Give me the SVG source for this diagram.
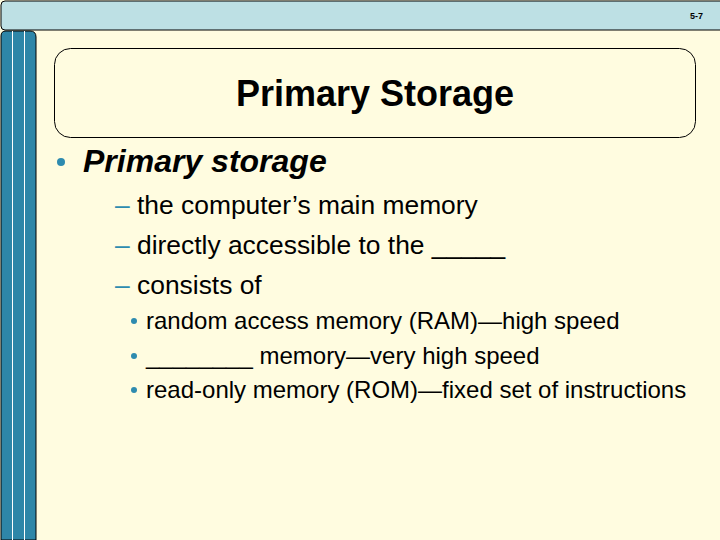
<svg xmlns="http://www.w3.org/2000/svg" width="720" height="540" viewBox="0 0 720 540">
<style>
.t{font-family:"Liberation Sans",Arial,sans-serif;fill:#000}
.b{fill:#2E8BAF}
</style>
<rect x="0" y="0" width="720" height="540" fill="#FFFCE0"/>
<g id="topbar"><rect x="1" y="1" width="730" height="29" rx="4" fill="#BDE0E4" stroke="#000" stroke-width="1"/>
<text x="703" y="19" class="t" font-size="9" font-weight="bold" text-anchor="end">5-7</text></g>
<g id="sidebar"><path d="M1,540 V36 Q1,31 6,31 H30 Q36,31 36,37 V540 Z" fill="#2E86A8" stroke="#000" stroke-width="1"/>
<line x1="12.5" y1="31" x2="12.5" y2="540" stroke="#fff" stroke-width="1"/>
<line x1="24.5" y1="31" x2="24.5" y2="540" stroke="#fff" stroke-width="1"/></g>
<g id="title"><rect x="54.5" y="48.5" width="641" height="89" rx="16" fill="none" stroke="#000" stroke-width="1"/>
<text x="375" y="106" class="t" font-size="36" font-weight="bold" text-anchor="middle">Primary Storage</text></g>
<g id="body">
<circle cx="61" cy="162" r="4" class="b"/>
<text x="83" y="172" class="t" font-size="32" font-weight="bold" font-style="italic">Primary storage</text>
<text x="115" y="214" class="t" font-size="26.4"><tspan fill="#2E8BAF">–</tspan> the computer’s main memory</text>
<text x="115" y="254" class="t" font-size="26.4"><tspan fill="#2E8BAF">–</tspan> directly accessible to the _____</text>
<text x="115" y="294" class="t" font-size="26.4"><tspan fill="#2E8BAF">–</tspan> consists of</text>
<circle cx="134" cy="321" r="3" class="b"/>
<circle cx="134" cy="356" r="3" class="b"/>
<circle cx="134" cy="390" r="3" class="b"/>
<text x="146" y="329" class="t" font-size="24">random access memory (RAM)—high speed</text>
<text x="146" y="364" class="t" font-size="24">________ memory—very high speed</text>
<text x="146" y="398" class="t" font-size="24">read-only memory (ROM)—fixed set of instructions</text>
</g>
</svg>
